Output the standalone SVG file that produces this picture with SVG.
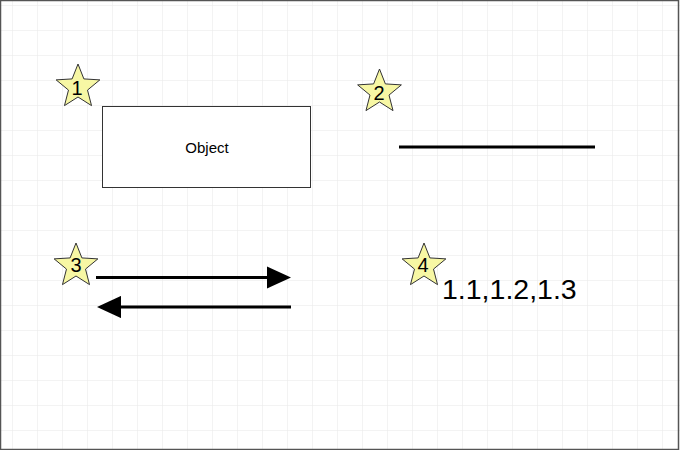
<svg xmlns="http://www.w3.org/2000/svg" xmlns:xlink="http://www.w3.org/1999/xlink" width="680" height="450" viewBox="0 0 680 450">
<style>
.star{fill:#f7f7a4;stroke:#333;stroke-width:1}
.num{font-family:"Liberation Sans",Arial,sans-serif;font-size:20px;fill:#000;text-anchor:middle}
.lbl{font-family:"Liberation Sans",Arial,sans-serif;fill:#000}
.conn{stroke:#000;stroke-width:3;fill:none}
</style>
<defs>
<pattern id="grid" x="12" y="5" width="25" height="25" patternUnits="userSpaceOnUse">
<path d="M0 0H25M0 0V25" fill="none" stroke="#e8e8e8" stroke-width="1"/>
</pattern>
<polygon id="starShape" points="0,-23 5.88,-8.09 21.87,-7.11 9.51,3.09 13.52,18.61 0,10 -13.52,18.61 -9.51,3.09 -21.87,-7.11 -5.88,-8.09"/>
<marker id="arrow" viewBox="0 0 8 7.4" refX="4.33" refY="3.7" markerWidth="8" markerHeight="7.4" orient="auto" markerUnits="strokeWidth">
<path d="M0 0L8 3.7L0 7.4Z" fill="#000"/>
</marker>
</defs>
<rect x="0" y="0" width="680" height="450" fill="#fff"/>
<rect x="0" y="0" width="680" height="450" fill="url(#grid)"/>
<rect x="0.5" y="0.5" width="678" height="449" fill="none" stroke="#555" stroke-width="1.5"/>

<g id="object">
<rect x="102.5" y="106.5" width="208" height="81" fill="#fff" stroke="#333" stroke-width="1"/>
<text class="lbl" x="207" y="153" font-size="15" text-anchor="middle">Object</text>
</g>

<g id="connectors">
<line class="conn" x1="399" y1="147" x2="595" y2="147"/>
<line class="conn" x1="96" y1="277.5" x2="280" y2="277.5" marker-end="url(#arrow)"/>
<line class="conn" x1="291" y1="307" x2="108" y2="307" marker-end="url(#arrow)"/>
</g>

<g id="star1"><use xlink:href="#starShape" class="star" x="78" y="87"/><text class="num" x="77" y="95">1</text></g>
<g id="star2"><use xlink:href="#starShape" class="star" x="379.5" y="92"/><text class="num" x="379" y="100">2</text></g>
<g id="star3"><use xlink:href="#starShape" class="star" x="76" y="266"/><text class="num" x="76" y="272">3</text></g>
<g id="star4"><use xlink:href="#starShape" class="star" x="424" y="266"/><text class="num" x="423" y="272">4</text></g>

<g id="label4">
<text class="lbl" x="442" y="299" font-size="28.5">1.1,1.2,1.3</text>
</g>
</svg>
